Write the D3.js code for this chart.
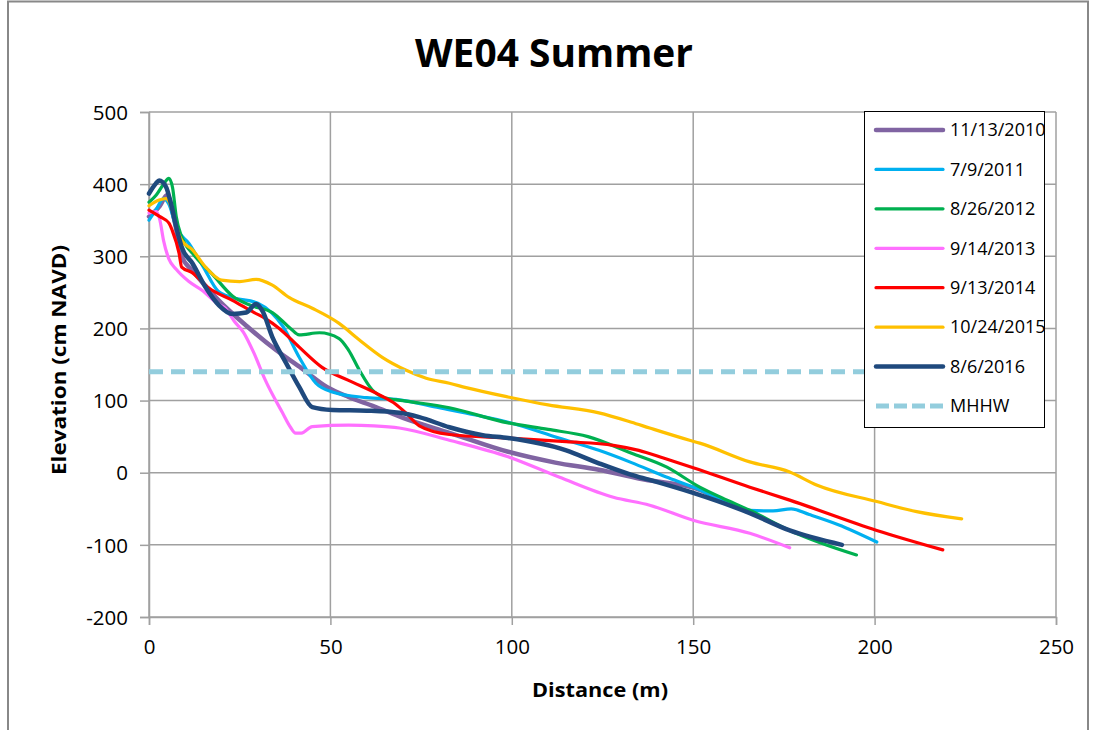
<!DOCTYPE html>
<html>
<head>
<meta charset="utf-8">
<script src="https://cdn.jsdelivr.net/npm/d3@7"></script>
<style>
  html, body { margin: 0; padding: 0; background: #fff; }
  svg { display: block; font-family: "Open Sans", "Noto Sans", sans-serif; }
</style>
</head>
<body>
<svg id="chart" width="1093" height="730"></svg>
<script>
// Beach profile surveys, transect WE04: distance (m) and elevation (cm NAVD)
const dist2010 = [0, 3, 5, 7, 9, 12, 19, 27, 35, 42, 49, 55, 62, 70, 83, 99, 112, 124, 135, 152, 160];
const elev2010 = [355, 370, 385, 350, 300, 280, 240, 203, 170, 145, 119, 105, 92, 76, 55, 29, 14, 4, -8, -24, -44];

const dist2011 = [0, 2, 4, 5.5, 7.5, 11, 15, 19, 23, 30, 37, 41.4, 46, 50.5, 60, 69, 80, 90, 99, 113, 124, 133, 142.6, 150, 158, 165.6, 172, 177, 182, 190, 200.6];
const elev2011 = [350, 365, 380, 372, 340, 318, 285, 252, 243, 235, 202, 160, 124, 112, 104, 101, 90, 80, 70, 48, 31, 14, -6, -20, -38, -52, -53, -50, -58, -72, -96];

const dist2012 = [0, 2, 4, 5.5, 6.5, 7.5, 9, 12, 17.5, 23, 28, 34, 39, 41.4, 47, 52.4, 55, 58, 61.5, 65, 70, 82.8, 99, 110, 121, 133, 142.6, 151.8, 158, 165.6, 176.6, 185, 195];
const elev2012 = [375, 385, 400, 408, 395, 355, 327, 304, 275, 245, 232, 222, 200, 191, 194, 186, 170, 142, 115, 104, 100, 90, 69, 60, 50, 27, 8, -20, -35, -52, -80, -97, -114];

const dist2013 = [0, 2, 3, 4, 5.5, 7.5, 11, 14.6, 19, 21, 23.5, 26, 29, 32, 36.8, 39, 40.4, 42, 45, 55, 62, 69, 82.8, 99, 113, 128, 138, 150, 165.6, 176.6];
const elev2013 = [360, 362, 350, 322, 296, 282, 265, 253, 234, 228, 210, 195, 165, 129, 83, 63, 55, 55, 64, 66, 65, 62, 45, 22, -6, -34, -45, -66, -84, -104];

const dist2014 = [0, 3, 5.5, 6.4, 8.3, 9, 12, 16.5, 23, 29, 32, 35.9, 41.4, 47.7, 55, 63.5, 68, 71, 74.5, 82.8, 99, 115, 128, 135, 142, 150, 165.6, 176.6, 200.6, 218.8];
const elev2014 = [364, 355, 346, 336, 304, 285, 277, 256, 239, 222, 214, 200, 174, 146, 128, 108, 95, 82, 65, 53, 48, 43, 38, 31, 20, 7, -20, -38, -80, -107];

const dist2015 = [0, 2.8, 4.7, 6.4, 7.5, 9, 12, 15.6, 20, 25, 29.5, 34, 38.6, 45, 52.4, 58, 64.3, 70.9, 76.4, 82.8, 87.4, 99, 110, 124, 133, 138, 149, 151.8, 165.6, 176.6, 184, 200.6, 211.6, 224];
const elev2015 = [370, 378, 380, 364, 341, 322, 309, 285, 267, 265, 268, 260, 243, 228, 207, 184, 160, 142, 131, 124, 118, 105, 94, 83, 70, 62, 45, 41, 15, 1, -17, -40, -54, -64];

const dist2016 = [0, 1.9, 2.8, 4.7, 6, 7.5, 9, 12, 15.6, 19.3, 23, 26.8, 29.5, 31.3, 34, 37.8, 41.4, 45, 50.5, 60, 69, 74.5, 82.8, 92, 99, 115, 124, 133, 138, 150, 165.6, 176.6, 191];
const elev2016 = [387, 401, 405, 396, 374, 341, 313, 290, 257, 232, 220, 222, 234, 224, 188, 152, 119, 91, 87, 86, 83, 77, 63, 52, 48, 31, 13, -3, -10, -28, -56, -80, -100];

// Mean higher high water reference level
const mhhwLevel = 140;
const mhhwRange = [0, 225];

const seriesNames = ["11/13/2010", "7/9/2011", "8/26/2012", "9/14/2013", "9/13/2014", "10/24/2015", "8/6/2016"];
const seriesColors = ["#8064A2", "#00B0F0", "#00B050", "#FF70FF", "#FF0000", "#FFC000", "#1F497D"];
const seriesWidths = [4.5, 3.2, 3.2, 3.2, 3.2, 3.2, 4.5];
const seriesDist = [dist2010, dist2011, dist2012, dist2013, dist2014, dist2015, dist2016];
const seriesElev = [elev2010, elev2011, elev2012, elev2013, elev2014, elev2015, elev2016];

const xTicks = [0, 50, 100, 150, 200, 250];
const yTicks = [-200, -100, 0, 100, 200, 300, 400, 500];

const svg = d3.select("#chart");
const gridColor = "#A0A0A0";

// outer chart frame
svg.append("rect")
  .attr("x", 8).attr("y", 1.5).attr("width", 1080).attr("height", 800)
  .attr("fill", "#fff").attr("stroke", "#888").attr("stroke-width", 2);

const x = d3.scaleLinear().domain([0, 250]).range([149, 1056]);
const y = d3.scaleLinear().domain([-200, 500]).range([617, 112]);

// gridlines
svg.append("g")
  .selectAll("line.h").data(yTicks).join("line")
  .attr("x1", x(0)).attr("x2", x(250))
  .attr("y1", d => y(d)).attr("y2", d => y(d))
  .attr("stroke", gridColor).attr("stroke-width", 1.5);
svg.append("g")
  .selectAll("line.v").data(xTicks).join("line")
  .attr("x1", d => x(d)).attr("x2", d => x(d))
  .attr("y1", y(-200)).attr("y2", y(500))
  .attr("stroke", gridColor).attr("stroke-width", 1.5);

// axes (plain hyphen for negative labels)
const plain = d => String(d);
const xAxis = d3.axisBottom(x).tickValues(xTicks).tickSize(8).tickPadding(14).tickFormat(plain);
const yAxis = d3.axisLeft(y).tickValues(yTicks).tickSize(9).tickPadding(12).tickFormat(plain);

const gx = svg.append("g").attr("transform", `translate(0,${y(-200)})`).call(xAxis);
const gy = svg.append("g").attr("transform", `translate(${x(0)},0)`).call(yAxis);
[gx, gy].forEach(g => {
  g.select(".domain").attr("stroke", gridColor).attr("stroke-width", 1.5);
  g.selectAll(".tick line").attr("stroke", gridColor).attr("stroke-width", 1.5);
  g.selectAll(".tick text").attr("fill", "#000").style("font-size", "20.5px")
    .style("font-family", "'Open Sans', sans-serif");
});
gy.selectAll(".tick text").attr("dy", "0.35em");

// profile lines
const line = d3.line()
  .x(d => x(d[0]))
  .y(d => y(d[1]))
  .curve(d3.curveMonotoneX);

const series = seriesNames.map((name, i) => ({
  name,
  color: seriesColors[i],
  width: seriesWidths[i],
  points: seriesDist[i].map((d, j) => [d, seriesElev[i][j]])
}));

svg.append("g").selectAll("path").data(series).join("path")
  .attr("d", s => line(s.points))
  .attr("fill", "none")
  .attr("stroke", s => s.color)
  .attr("stroke-width", s => s.width)
  .attr("stroke-linejoin", "round")
  .attr("stroke-linecap", "round");

// MHHW reference line
const mhhwColor = "#93CDDD";
svg.append("path")
  .attr("d", d3.line().x(d => x(d)).y(() => y(mhhwLevel))(mhhwRange))
  .attr("fill", "none")
  .attr("stroke", mhhwColor)
  .attr("stroke-width", 5)
  .attr("stroke-dasharray", "14,8");

// title and axis titles
svg.append("text")
  .attr("x", 554).attr("y", 67)
  .attr("text-anchor", "middle")
  .style("font-size", "39px").style("font-weight", "700")
  .attr("textLength", 278).attr("lengthAdjust", "spacingAndGlyphs")
  .text("WE04 Summer");

svg.append("text")
  .attr("x", 600).attr("y", 697)
  .attr("text-anchor", "middle")
  .style("font-size", "19px").style("font-weight", "700")
  .attr("textLength", 136).attr("lengthAdjust", "spacingAndGlyphs")
  .text("Distance (m)");

svg.append("text")
  .attr("transform", "translate(66,360) rotate(-90)")
  .attr("text-anchor", "middle")
  .style("font-size", "19px").style("font-weight", "700")
  .attr("textLength", 230).attr("lengthAdjust", "spacingAndGlyphs")
  .text("Elevation (cm NAVD)");

// legend
const legend = svg.append("g");
legend.append("rect")
  .attr("x", 864.5).attr("y", 111.5).attr("width", 180).attr("height", 316)
  .attr("fill", "#fff").attr("stroke", "#000").attr("stroke-width", 1);

const legendItems = series.map(s => ({ name: s.name, color: s.color, width: s.width, dash: null }))
  .concat([{ name: "MHHW", color: mhhwColor, width: 5, dash: "13,5" }]);

const rowY = d3.scalePoint().domain(legendItems.map(d => d.name)).range([130, 406]);

const rows = legend.selectAll("g.row").data(legendItems).join("g")
  .attr("transform", d => `translate(0,${rowY(d.name)})`);
rows.append("line")
  .attr("x1", 876).attr("x2", 943)
  .attr("stroke", d => d.color)
  .attr("stroke-width", d => d.width)
  .attr("stroke-linecap", d => d.dash ? "butt" : "round")
  .attr("stroke-dasharray", d => d.dash);
rows.append("text")
  .attr("x", 950).attr("dy", "0.35em")
  .style("font-size", "18px")
  .text(d => d.name);
</script>
</body>
</html>
